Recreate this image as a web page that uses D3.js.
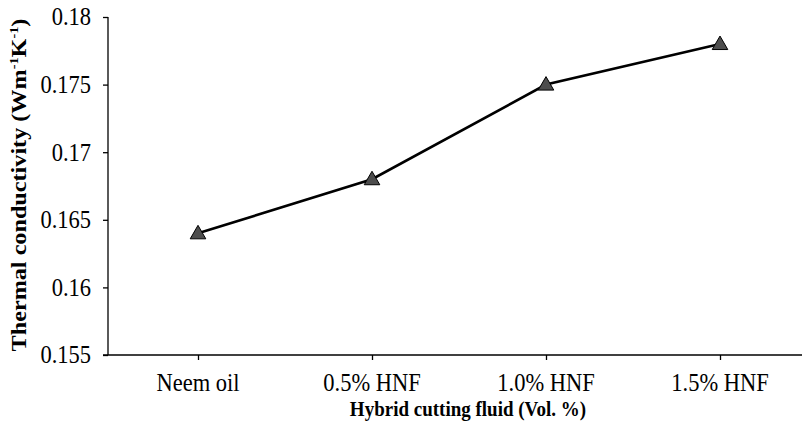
<!DOCTYPE html>
<html>
<head>
<meta charset="utf-8">
<script src="https://cdn.jsdelivr.net/npm/d3@7"></script>
<style>
  html, body { margin: 0; padding: 0; background: #fff; }
  svg { display: block; }
  .lbl { font-family: "Liberation Serif", "Times New Roman", Times, serif; fill: #000; }
</style>
</head>
<body>
<svg id="chart" width="802" height="446"></svg>
<script>
// Thermal conductivity of the cutting fluids
const categories = ["Neem oil", "0.5% HNF", "1.0% HNF", "1.5% HNF"];
const conductivity = [0.164, 0.168, 0.175, 0.178];
const yTicks = [0.155, 0.16, 0.165, 0.17, 0.175, 0.18];
const yTickLabels = ["0.155", "0.16", "0.165", "0.17", "0.175", "0.18"];

const svg = d3.select("#chart");
const W = 802, H = 446;
const plotLeft = 108, plotTop = 17, plotBottom = 355;
const stretch = 1.1; // text is drawn slightly taller than wide

const x = d3.scalePoint()
  .domain(categories)
  .range([111, 807])
  .padding(0.5);

const y = d3.scaleLinear()
  .domain([0.155, 0.18])
  .range([plotBottom, plotTop]);

// y axis (lines only; labels drawn below)
const yAxis = svg.append("g")
  .attr("transform", `translate(${plotLeft},0)`)
  .call(d3.axisLeft(y).tickValues(yTicks).tickFormat("").tickSize(5));
yAxis.select(".domain").attr("stroke", "#000").attr("stroke-width", 1.3)
  .attr("d", `M0,${y(0.18)}V${y(0.155)}`);
yAxis.selectAll(".tick line").attr("stroke", "#000").attr("stroke-width", 1.3);

// x axis
const xAxis = svg.append("g")
  .attr("transform", `translate(0,${plotBottom})`)
  .call(d3.axisBottom(x).tickFormat("").tickSize(5));
xAxis.select(".domain").attr("stroke", "#000").attr("stroke-width", 1.3)
  .attr("d", `M${plotLeft - 5},0H${W}`);
xAxis.selectAll(".tick line").attr("stroke", "#000").attr("stroke-width", 1.3);

// tick labels
svg.append("g").selectAll("text")
  .data(yTicks)
  .join("text")
  .attr("class", "lbl")
  .attr("transform", d => `translate(91,${y(d)}) scale(1,${stretch})`)
  .attr("dy", "0.34em")
  .attr("text-anchor", "end")
  .attr("font-size", 22.5)
  .text((d, i) => yTickLabels[i]);

svg.append("g").selectAll("text")
  .data(categories)
  .join("text")
  .attr("class", "lbl")
  .attr("transform", d => `translate(${x(d)},391) scale(1,${stretch})`)
  .attr("text-anchor", "middle")
  .attr("font-size", 22.5)
  .text(d => d);

// series line
const pts = categories.map((c, i) => [x(c), y(conductivity[i])]);
svg.append("path")
  .attr("d", d3.line()(pts))
  .attr("fill", "none")
  .attr("stroke", "#000")
  .attr("stroke-width", 2.6);

// triangle markers
svg.selectAll(".marker")
  .data(pts)
  .join("path")
  .attr("class", "marker")
  .attr("transform", d => `translate(${d[0]},${d[1] + 1})`)
  .attr("d", d3.symbol(d3.symbolTriangle, 105)())
  .attr("fill", "#4d4d4d")
  .attr("stroke", "#000")
  .attr("stroke-width", 1);

// axis titles
svg.append("text")
  .attr("class", "lbl")
  .attr("transform", `translate(468,416) scale(1,${stretch})`)
  .attr("text-anchor", "middle")
  .attr("font-size", 19)
  .attr("font-weight", "bold")
  .text("Hybrid cutting fluid (Vol. %)");

const yTitle = svg.append("text")
  .attr("class", "lbl")
  .attr("transform", `translate(26,185) rotate(-90) scale(${stretch},1)`)
  .attr("text-anchor", "middle")
  .attr("font-size", 22)
  .attr("font-weight", "bold");
yTitle.append("tspan").text("Thermal conductivity (Wm");
yTitle.append("tspan").attr("font-size", 13).attr("dy", -8).text("-1");
yTitle.append("tspan").attr("dy", 8).text("K");
yTitle.append("tspan").attr("font-size", 13).attr("dy", -8).text("-1");
yTitle.append("tspan").attr("dy", 8).text(")");
</script>
</body>
</html>
